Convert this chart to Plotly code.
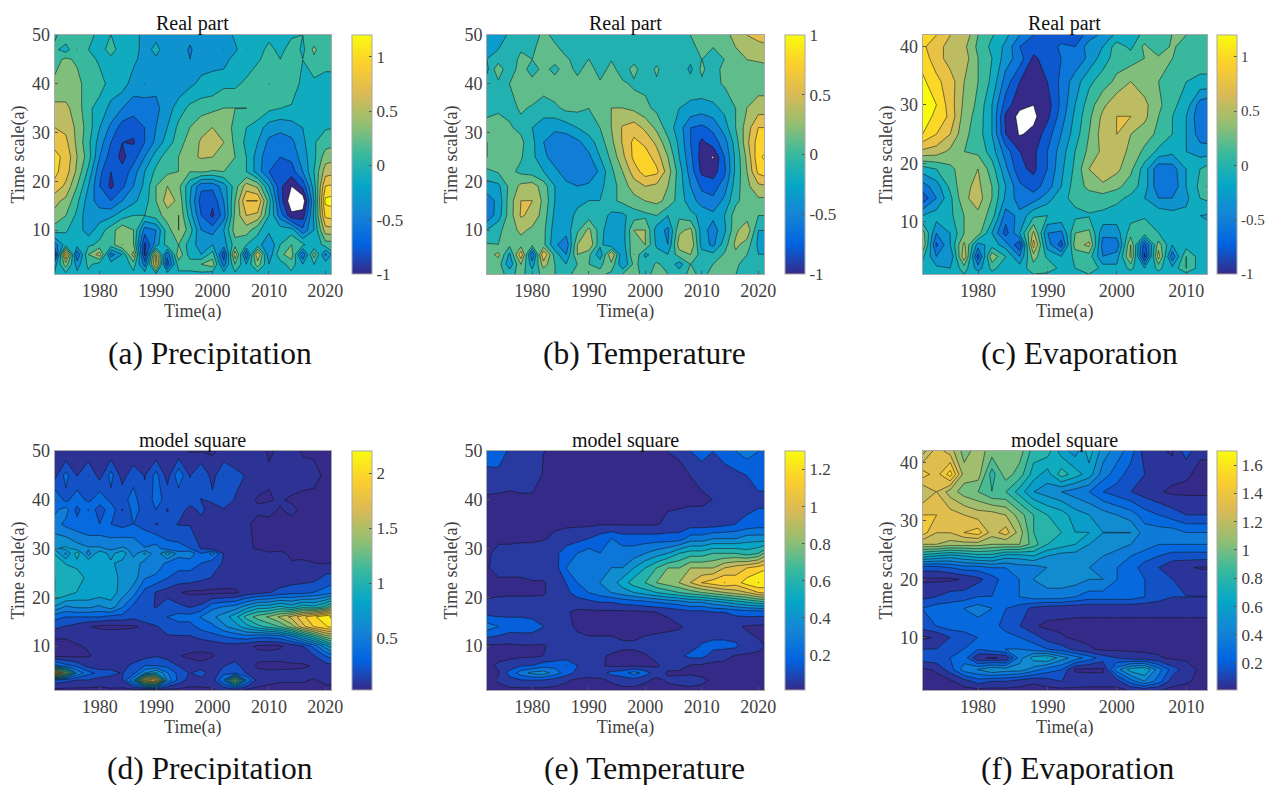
import numpy as np
import plotly.graph_objects as go

PARULA = [[0.0,"#352a87"],[0.125,"#0363e1"],[0.25,"#1485d4"],[0.375,"#06a7c6"],[0.5,"#38b99e"],
          [0.625,"#92bf73"],[0.75,"#d9ba56"],[0.875,"#fcce2e"],[1.0,"#f9fb0e"]]

years_long = list(range(1972, 2023, 2))
years_short = list(range(1972, 2015, 2))

scale_a = [50,47,45,40,35,31,28,25,22,19,16,13,10,7,5,3,1]
real_precip = [
[-5,15,10,5,-5,0,-10,-15,-25,-30,-25,-35,-30,-40,-35,-35,-15,-10,-5,-10,-5,-5,0,5,5,10],
[5,-10,20,0,-15,15,-20,-5,-35,-10,-40,-20,-45,-20,-40,-20,-25,0,-15,10,-10,15,-5,25,0,15],
[10,25,15,10,-5,-10,-20,-15,-30,-25,-35,-30,-40,-30,-25,-30,-10,-15,-2,5,0,5,0,15,10,10],
[25,25,30,5,10,-10,-10,-30,-20,-35,-30,-35,-25,-15,-15,-5,-5,5,10,20,15,10,-5,-5,-10,-10],
[45,45,30,5,-10,-25,-40,-50,-55,-45,-30,-10,5,10,15,20,20,20,15,5,0,-2,-10,-15,-20,-20],
[60,55,35,10,-20,-45,-70,-75,-60,-40,-20,5,20,35,40,30,15,0,-10,-30,-35,-30,-20,-5,-2,0],
[75,65,35,5,-30,-60,-80,-82,-60,-35,-10,10,30,42,42,40,15,-5,-20,-45,-50,-45,-25,-2,10,15],
[85,75,40,10,-40,-70,-85,-70,-40,-10,10,20,35,42,40,35,20,0,-30,-55,-60,-55,-30,-5,30,35],
[85,70,35,-5,-55,-80,-75,-50,-20,5,15,20,20,22,18,20,10,0,-30,-60,-75,-70,-40,0,50,55],
[75,55,20,-20,-60,-85,-65,-40,-15,20,40,25,-15,-55,-55,-30,10,50,35,-20,-75,-100,-75,-10,80,85],
[45,35,5,-30,-50,-60,-40,-25,-10,20,50,35,-20,-70,-75,-40,20,80,80,10,-70,-115,-115,-20,105,110],
[35,20,-5,-35,-30,-25,-10,0,0,10,30,40,-10,-60,-85,-50,25,60,55,0,-50,-95,-90,-15,85,90],
[10,2,-10,-30,-10,10,35,20,-50,-40,10,40,10,-40,-50,-20,30,30,5,-15,-10,-10,-55,-20,50,55],
[-50,-10,-10,-5,5,10,40,20,-85,-30,10,20,-10,-30,-20,-30,10,0,-10,-40,0,20,5,-20,10,10],
[-95,85,-60,20,50,-50,-20,50,-85,60,-55,35,-10,-20,10,-75,55,-60,60,-35,15,30,-60,30,-45,0],
[-30,30,-30,5,-10,-10,-20,10,-50,70,-70,10,10,20,30,-50,20,-20,30,-20,-10,10,-20,0,-10,-10],
[-20,-5,-15,-5,-10,-5,-10,-5,-10,-5,-10,-5,-5,-5,-10,-10,-5,-5,-10,-10,-5,-5,-10,-5,-10,-10],
]

scale_b = [50,45,43,40,35,31,28,25,22,19,16,13,10,7,5,3,1]
real_temp = [
[-35,-35,-15,-5,-10,5,-5,-15,-10,-10,-5,-5,-5,-3,-5,-5,-5,-10,0,5,5,10,30,40,45,50],
[-20,-10,-5,2,0,2,10,2,-5,0,-5,-2,-8,-10,-2,-10,-10,-10,-15,0,-5,0,10,20,25,25],
[-25,15,-20,15,-15,10,-10,15,-10,15,-15,10,-15,10,-20,5,-20,-5,-25,5,-15,10,0,15,5,15],
[-10,-5,0,5,12,10,15,15,12,12,5,5,5,-5,-5,-5,-10,-15,-10,-5,-5,2,10,12,10,10],
[-5,-2,-5,2,-2,-10,-5,5,5,0,5,20,20,15,5,-5,-10,-20,-25,-30,-25,-15,0,20,30,30],
[5,5,2,-5,-20,-30,-35,-30,-20,-10,0,20,42,50,35,15,-10,-30,-60,-65,-55,-30,0,30,60,60],
[20,12,10,5,-15,-40,-55,-55,-45,-30,-10,15,42,65,55,35,5,-25,-60,-85,-70,-50,-10,35,70,75],
[20,15,12,2,-15,-35,-50,-60,-60,-45,-20,5,35,65,70,50,20,-20,-55,-90,-102,-60,-15,25,75,90],
[-5,2,5,-5,-10,-20,-35,-50,-60,-60,-35,-5,20,50,70,65,30,-10,-50,-85,-90,-65,-15,20,65,75],
[-30,-25,5,25,30,10,-20,-35,-40,-35,-25,-10,10,30,40,35,20,-10,-40,-65,-70,-50,-10,15,35,40],
[-50,-35,10,40,40,15,-20,-30,-25,-20,-20,-5,5,12,20,25,15,-10,-30,-50,-55,-35,-5,10,15,15],
[-55,-30,10,42,35,10,-25,-30,-15,-10,-10,-25,-25,-10,-5,0,-20,-5,-15,-25,-35,-20,10,10,0,0],
[-20,-5,10,25,15,5,-30,-30,-5,25,-10,-40,-30,20,20,-30,-45,15,25,-30,-50,-25,15,35,-20,-20],
[2,0,5,10,5,5,-35,-55,20,40,-15,-35,-30,15,20,-25,-40,30,40,-30,-45,-10,25,10,-25,-25],
[10,25,-25,55,-60,60,-10,-40,20,5,-35,40,-40,20,-25,-10,-20,10,20,-10,-15,2,15,0,-20,-20],
[0,10,-35,20,-30,30,0,-20,0,0,-5,15,-40,5,-10,2,-5,-30,0,-10,0,8,2,-5,-10,-10],
[0,5,-5,5,-10,5,0,-5,5,0,5,-5,0,5,-5,5,0,-10,5,-5,5,5,0,-5,-5,-5],
]

scale_c = [42,40,38,34,30,28,25,22,19,16,14,11,8,6,4,2,1]
real_evap = [
[95,80,60,55,20,2,-15,-40,-60,-80,-75,-75,-50,-35,-15,-10,5,15,20,20,15,15],
[85,65,55,45,15,-5,-25,-60,-70,-75,-55,-60,-30,-20,10,-5,25,0,25,5,15,10],
[90,70,50,50,20,0,-30,-50,-85,-70,-60,-55,-35,-10,10,10,20,25,20,15,10,10],
[105,85,70,40,20,-5,-50,-80,-90,-80,-55,-30,-5,10,25,40,30,20,5,0,-5,-5],
[110,100,70,35,15,-20,-70,-95,-100,-90,-55,-20,10,35,55,55,45,25,5,-10,-50,-60],
[110,95,75,30,12,-20,-85,-106,-105,-85,-50,-15,15,45,60,60,45,20,0,-20,-55,-60],
[100,80,60,25,10,-20,-80,-102,-95,-70,-40,-10,20,50,60,40,30,15,0,-20,-50,-55],
[55,50,35,20,15,-10,-50,-80,-85,-60,-30,0,25,45,50,35,15,-5,-15,-20,-30,-30],
[-10,0,15,30,40,10,-35,-75,-85,-60,-25,5,40,55,45,25,-10,-55,-50,-20,0,20],
[-50,-30,5,35,45,20,-20,-55,-70,-50,-20,10,25,35,25,10,-10,-55,-55,-20,5,35],
[-75,-40,-5,35,50,20,-25,-50,-50,-30,-5,5,10,10,5,-5,-20,-40,-40,-25,0,10],
[-20,-10,-5,20,35,10,-50,-35,-5,0,-5,-5,-2,-5,-10,-8,-2,-5,-12,-15,-20,-25],
[30,-40,-20,20,30,-20,-70,-20,45,-40,-45,20,25,-35,-30,10,10,0,-5,-10,-15,-15],
[40,-65,-20,45,-30,-10,-30,-80,70,-30,-70,30,45,-50,-55,40,-70,30,-20,-10,-10,-10],
[5,-40,-40,55,-70,35,0,-40,30,-5,-20,5,10,-40,-30,45,-85,50,-55,20,-10,-10],
[-10,-15,-20,10,-30,5,-10,-10,10,20,-10,0,20,-10,-15,5,-20,5,-15,20,-10,-10],
[-10,-5,-10,0,-10,-5,-10,-5,0,-5,-10,-5,0,-10,-5,-10,-10,-5,-10,-5,-10,-10],
]

scale_d = [50,45,40,38,35,30,29,27,24,21,18,16,14,12,10,8,6,4.5,3,1]
power_precip = [
[10,8,10,10,10,10,8,8,10,10,8,10,6,6,5,10,10,12,10,6,8,10,6,5,6,6],
[15,40,20,35,15,40,15,30,20,40,15,45,20,35,15,35,25,20,12,8,8,15,10,10,5,5],
[50,30,45,30,45,30,30,40,25,40,30,25,30,20,25,30,20,10,6,6,8,5,5,4,3,3],
[45,55,30,50,25,45,20,40,30,35,20,30,15,25,12,20,15,10,8,10,6,10,4,3,3,3],
[55,45,40,35,35,35,30,35,30,20,25,20,20,15,12,10,12,8,5,4,3,3,3,3,3,3],
[75,80,70,65,65,60,65,60,50,55,40,40,35,20,15,12,8,10,5,4,3,3,3,3,3,3],
[90,60,100,55,90,70,90,55,80,50,85,55,60,35,55,20,20,15,15,8,10,4,5,3,4,3],
[100,90,85,90,80,80,70,75,55,60,45,40,40,35,25,20,20,15,10,10,8,8,8,7,6,8],
[105,100,100,85,90,80,75,70,50,45,35,30,30,25,20,15,15,15,15,12,12,12,15,15,25,30],
[105,100,90,90,85,85,70,55,30,20,15,8,4,4,3,4,4,12,15,20,25,30,30,35,40,45],
[75,60,65,65,60,70,50,30,25,20,30,25,20,25,45,50,55,70,85,85,95,85,100,95,110,150],
[40,35,35,35,35,30,30,25,35,30,35,40,40,50,60,70,85,110,125,135,150,165,185,200,215,220],
[25,20,15,8,4,3,4,5,10,20,25,30,30,40,45,60,70,85,100,110,120,140,170,190,200,215],
[8,8,10,15,15,15,15,15,20,20,20,20,20,25,30,35,40,45,40,40,45,60,85,110,140,150],
[4,4,6,8,10,10,12,15,15,15,15,15,15,12,12,15,15,10,5,3,5,12,20,40,70,100],
[4,4,4,6,10,12,12,10,15,20,15,8,3,3,5,15,15,15,10,12,12,15,15,20,35,50],
[55,40,30,15,10,15,15,25,35,35,30,20,15,10,20,20,25,15,5,3,3,4,5,8,15,20],
[200,140,60,40,30,25,20,30,60,80,50,30,20,30,10,30,30,20,10,10,10,10,10,10,10,10],
[30,25,20,20,15,15,20,60,180,190,60,30,15,15,15,50,150,50,15,10,8,8,8,6,10,10],
[3,3,3,3,3,5,3,3,3,3,3,3,3,3,5,10,12,5,3,3,3,3,3,3,3,3],
]

scale_e = [50,45,40,35,32,29,26,23,21,19,17,14,10,8,6,4.5,3,1]
power_temp = [
[20,25,12,10,8,5,4,3,3,3,3,3,3,3,3,3,5,6,15,20,15,20,25,30,25,20],
[12,10,8,10,10,4,3,3,3,3,3,3,3,3,3,3,3,3,5,8,10,10,12,15,20,20],
[3,3,3,3,3,3,3,3,3,3,3,3,3,3,3,3,3,3,3,3,5,6,8,10,12,12],
[3,3,3,3,3,3,3,3,3,3,4,4,4,4,4,4,7,8,10,10,10,12,15,18,20,20],
[3,3,3,3,3,4,7,10,12,15,20,25,20,20,20,20,20,20,30,30,35,35,35,40,40,40],
[3,8,8,10,10,12,12,20,25,30,25,30,30,30,35,40,45,55,60,60,65,65,65,60,65,85],
[4,8,8,8,10,10,10,25,25,30,30,35,35,45,55,65,75,75,85,85,85,95,100,105,110,115],
[3,3,3,3,4,4,10,15,25,30,35,40,50,60,65,75,80,85,95,105,110,115,110,120,125,120],
[3,3,3,3,3,4,8,12,20,25,30,35,40,45,50,55,60,65,70,75,80,85,90,95,105,110],
[6,7,8,8,8,7,8,8,10,12,15,15,18,20,22,25,28,30,35,35,40,45,50,55,60,65],
[10,10,12,12,10,8,8,6,3,3,3,3,3,3,4,5,6,10,12,12,15,15,18,20,20,20],
[30,25,20,20,20,15,10,8,3,2,2,2,2,2,2,2,3,4,7,8,8,8,6,4,3,3],
[3,3,3,4,4,4,8,10,10,8,8,8,6,6,8,10,10,10,10,16,18,18,17,8,6,4],
[3,3,2,3,3,5,7,8,8,7,6,4,3,3,4,7,9,12,18,18,10,8,4,4,4,4],
[3,6,10,14,15,20,22,25,15,12,6,3,3,3,3,4,7,9,4,3,2,2,2,2,2,2],
[3,4,18,30,38,40,30,20,12,8,10,18,20,30,20,8,4,3,3,2,2,2,2,2,2,2],
[2,6,12,14,15,14,10,6,3,3,3,6,10,10,6,3,6,8,10,7,3,2,2,2,2,2],
[2,2,2,2,2,2,2,2,2,2,2,2,2,2,2,2,2,2,2,2,2,2,2,2,2,2],
]

scale_f = [42,38,35,31,28,26,24,22,20,17,15,12,10,8,6.5,4.5,2.5,1]
power_evap = [
[110,130,120,100,110,100,100,100,80,80,60,50,70,50,40,30,10,6,4,20,6,6],
[140,130,150,110,110,80,100,90,70,60,80,70,60,40,30,20,15,10,8,6,3,3],
[115,125,110,100,95,85,85,70,55,50,45,40,35,25,20,15,10,6,3,3,3,3],
[135,135,130,125,120,120,115,100,85,75,70,60,55,50,45,40,30,25,20,15,15,15],
[140,125,125,135,140,120,130,110,85,75,75,65,65,55,55,55,40,40,40,35,35,35],
[115,115,110,110,110,105,105,105,90,75,70,65,55,50,50,45,40,35,35,35,35,35],
[70,65,60,65,70,70,60,60,65,55,50,50,45,45,40,35,30,25,20,20,20,20],
[20,20,25,30,30,35,35,40,40,45,50,50,45,40,35,30,20,15,8,6,4,4],
[3,3,3,6,12,20,30,35,45,50,50,50,45,45,35,30,25,20,15,12,10,10],
[12,15,20,20,25,25,30,35,40,40,40,35,30,30,30,30,25,20,15,15,15,15],
[25,30,30,35,40,35,25,20,12,9,8,7,7,7,7,7,7,7,7,7,7,7],
[20,25,30,30,30,30,20,15,6,3,3,3,3,3,3,3,3,3,3,3,3,3],
[3,6,15,20,25,30,30,25,20,10,6,3,3,3,3,3,3,3,3,3,3,3],
[15,15,20,25,25,30,35,35,30,25,20,12,6,3,3,3,3,3,3,3,3,3],
[20,22,25,30,6,4,6,40,60,65,50,40,30,20,15,10,8,6,3,3,3,3],
[3,6,20,40,45,55,50,50,40,30,25,3,3,3,40,60,65,40,20,10,3,3],
[2,2,3,10,20,15,15,10,6,10,15,12,10,10,10,30,45,30,10,6,3,2],
[2,2,2,2,2,2,2,2,2,2,2,2,2,2,2,6,8,6,2,2,2,2],
]

cb_ticks = [
    [-1,-0.5,0,0.5,1],[-1,-0.5,0,0.5,1],[-1,-0.5,0,0.5,1],
    [0.5,1,1.5,2],[0.2,0.4,0.6,0.8,1,1.2],[0.2,0.4,0.6,0.8,1,1.2,1.4,1.6],
]
cb_text = [
    ["-1","-0.5","0","0.5","1"],["-1","-0.5","0","0.5","1"],["-1","-0.5","0","0.5","1"],
    ["0.5","1","1.5","2"],["0.2","0.4","0.6","0.8","1","1.2"],["0.2","0.4","0.6","0.8","1","1.2","1.4","1.6"],
]
titles = ["Real part"]*3 + ["model square"]*3
captions = ["(a) Precipitation","(b) Temperature","(c) Evaporation","(d) Precipitation","(e) Temperature","(f) Evaporation"]
data = [real_precip, real_temp, real_evap, power_precip, power_temp, power_evap]
xs = [years_long, years_long, years_short, years_long, years_long, years_short]
ys = [scale_a, scale_b, scale_c, scale_d, scale_e, scale_f]
xmax = [2021,2021,2013,2021,2021,2013]
ymax = [50,50,42,50,50,42]
zr = [(-1,1.2),(-1,1),(-1,1.2),(0.03,2.2),(0.01,1.3),(0.01,1.7)]
lv = [(-1,1.2,0.2),(-1,1,0.2),(-1,1.2,0.2),(0.07,2.2,0.14),(0.05,1.3,0.1),(0.05,1.7,0.1)]
cb_size = [17,17,15,17,17,17]

W, H = 1266, 785
left = [54.5,487,922.5]; right = [331,764,1207]
cb_left = [352,785,1216.5]
top = [35,451]; bottom = [274,690]
cap_x = [[210,644,1079],[210,644,1078]]
cap_y = [353,768]
ttl_x = [192,625,1064]
ttl_y = [24,440]
FONT = "Liberation Serif"
TXT = "#404040"

fig = go.Figure()
layout = dict(width=W, height=H, margin=dict(l=0,r=0,t=0,b=0,autoexpand=False), paper_bgcolor="white", plot_bgcolor="white",
              font=dict(family=FONT, color=TXT, size=18), showlegend=False)
ann = []
for i in range(6):
    c, r = i % 3, i // 3
    ax = "" if i == 0 else str(i+1)
    z = np.array(data[i], dtype=float)/100 + 0.0013   # keeps values off exact contour levels
    x = xs[i]; y = ys[i]
    order = np.argsort(y)
    zs = z[order]; ysorted = np.array(y)[order]
    half = lv[i][2]/2
    fig.add_trace(go.Contour(x=x, y=ysorted, z=zs, zmin=zr[i][0]+half, zmax=zr[i][1]+half, colorscale=PARULA, showscale=False,
                             contours=dict(start=lv[i][0], end=lv[i][1], size=lv[i][2], coloring="fill"),
                             line=dict(color="rgba(20,20,20,0.8)", width=0.7, smoothing=0),
                             xaxis="x"+ax, yaxis="y"+ax, hoverinfo="skip"))
    if i < 3:
        fig.add_trace(go.Contour(x=x, y=ysorted, z=zs, showscale=False, fillcolor="white",
                                 contours=dict(type="constraint", operation=">", value=-1),
                                 line=dict(color="rgba(20,20,20,0.8)", width=0.7, smoothing=0),
                                 xaxis="x"+ax, yaxis="y"+ax, hoverinfo="skip"))
    fig.add_trace(go.Scatter(x=[None], y=[None], mode="markers", xaxis="x"+ax, yaxis="y"+ax, hoverinfo="skip",
        marker=dict(color=[zr[i][0]], cmin=zr[i][0], cmax=zr[i][1], colorscale=PARULA, showscale=True,
            colorbar=dict(x=cb_left[c]/W, xanchor="left", xpad=0, y=1-top[r]/H, yanchor="top", ypad=0,
                          len=(bottom[r]-top[r])/H, thickness=20, outlinecolor="#a8a8a8", outlinewidth=1,
                          tickvals=cb_ticks[i], ticktext=cb_text[i], ticks="inside", ticklen=3, tickcolor="#555",
                          tickfont=dict(family=FONT, size=cb_size[i], color=TXT)))))
    axis_common = dict(showgrid=False, zeroline=False, showline=True, mirror=True, linecolor="#a8a8a8", linewidth=1,
                       ticks="inside", ticklen=3, tickcolor="#555", tickfont=dict(family=FONT, size=18, color=TXT))
    layout["xaxis"+ax] = dict(domain=[left[c]/W, right[c]/W], anchor="y"+ax, range=[1972, xmax[i]],
                              tickvals=[1980,1990,2000,2010,2020] if xmax[i] > 2015 else [1980,1990,2000,2010],
                              title=dict(text="Time(a)", font=dict(family=FONT,size=18,color=TXT), standoff=4), **axis_common)
    yticks = [10,20,30,40,50] if ymax[i] == 50 else [10,20,30,40]
    layout["yaxis"+ax] = dict(domain=[1-bottom[r]/H, 1-top[r]/H], anchor="x"+ax, range=[1, ymax[i]], tickvals=yticks,
                              title=dict(text="Time scale(a)", font=dict(family=FONT,size=18,color=TXT), standoff=2), **axis_common)
    ann.append(dict(text=titles[i], x=ttl_x[c]/W, y=1-ttl_y[r]/H, xref="paper", yref="paper", showarrow=False,
                    xanchor="center", yanchor="middle", font=dict(family=FONT,size=20,color="#111")))
    ann.append(dict(text=captions[i], x=cap_x[r][c]/W, y=1-cap_y[r]/H, xref="paper", yref="paper", showarrow=False,
                    xanchor="center", yanchor="middle", font=dict(family=FONT,size=31.5,color="#111")))
layout["annotations"] = ann
fig.update_layout(**layout)
fig.write_html("out.html", post_script="document.body.style.margin='0';", config={"displayModeBar": False})
